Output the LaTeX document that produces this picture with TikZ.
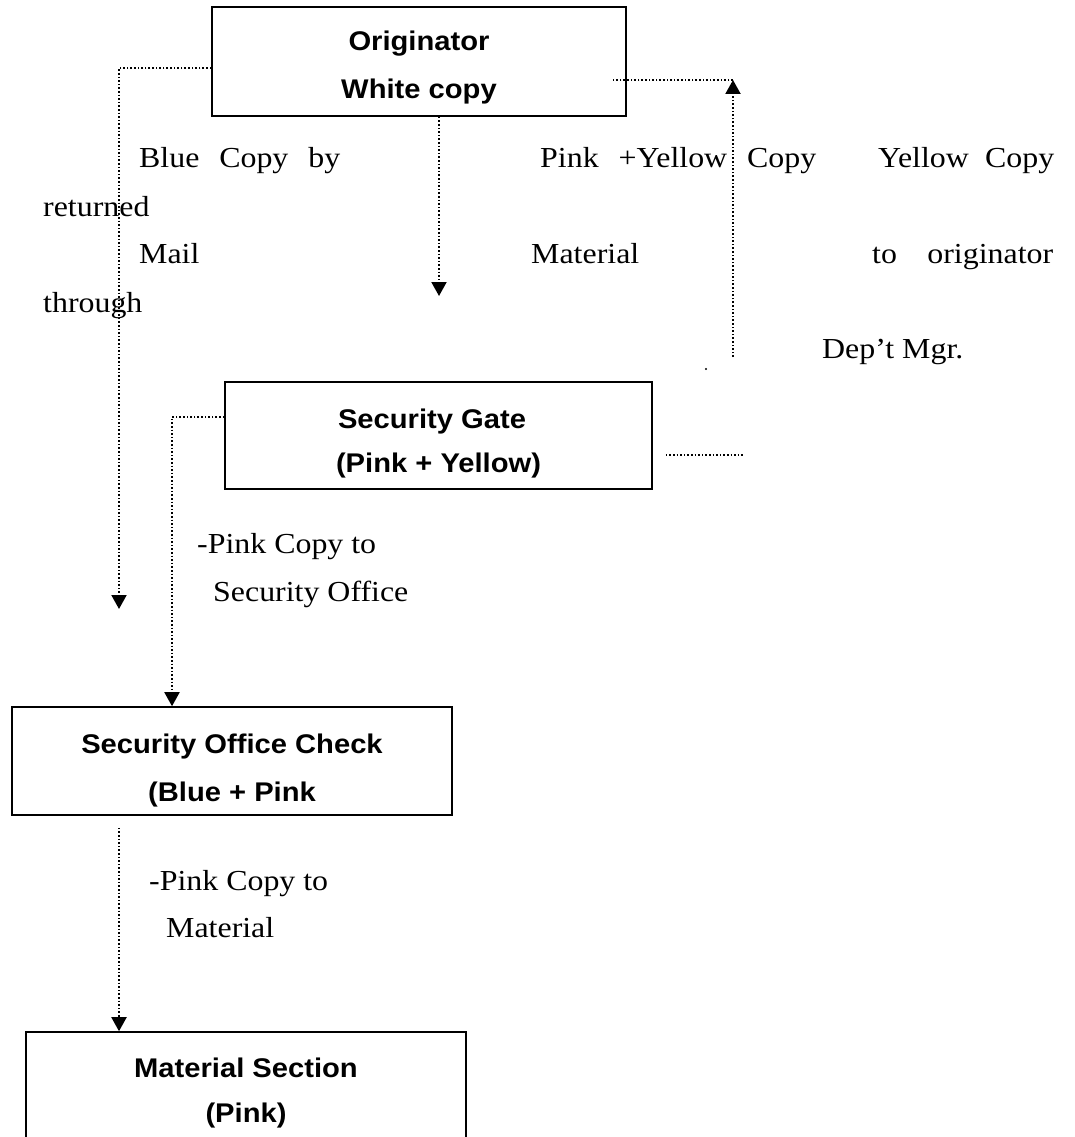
\documentclass[tikz,border=0pt]{standalone}
\usepackage{fontspec}
\newfontfamily\boxfont{Liberation Sans}[FakeStretch=1.08]
\newfontfamily\notefont{Liberation Serif}[FakeStretch=1.1]
\usetikzlibrary{arrows.meta}
\begin{document}
\begin{tikzpicture}[x=1pt,y=-1pt,
  stage/.style={draw=black, line width=1.6pt, inner sep=0pt},
  title/.style={font=\boxfont\bfseries\fontsize{27}{32}\selectfont, anchor=base, inner sep=0pt},
  note/.style={font=\notefont\fontsize{29}{34}\selectfont, anchor=base west, inner sep=0pt},
  flow/.style={line width=2pt, dash pattern=on 1.6pt off 2pt},
  tip/.style={-{Triangle[width=15pt,length=14pt]}}
]
\useasboundingbox (0,0) rectangle (1075,1137);

% process boxes
\node[stage, minimum width=414pt, minimum height=109pt] (orig) at (419,61.5) {};
\node[stage, minimum width=427pt, minimum height=107pt] (gate) at (438.5,435.5) {};
\node[stage, minimum width=440pt, minimum height=108pt] (soc)  at (232,761) {};
\node[stage, minimum width=440pt, minimum height=109pt] (mat)  at (246,1086.5) {};

% box titles
\node[title] (origA) at (419,51)   {Originator};
\node[title] (origB) at (419,99)   {White copy};
\node[title] (gateA) at (432,428)  {Security Gate};
\node[title] (gateB) at (438.5,472) {(Pink + Yellow)};
\node[title] (socA)  at (232,753)  {Security Office Check};
\node[title] (socB)  at (232,801)  {(Blue + Pink};
\node[title] (matA)  at (246,1077) {Material Section};
\node[title] (matB)  at (246,1122) {(Pink)};

% routing notes
\node[note] (blueA) at (139,167) {\makebox[201pt][s]{Blue Copy by}};
\node[note] (blueB) at (43,216)  {returned};
\node[note] (blueC) at (139,263) {Mail};
\node[note] (blueD) at (43,312)  {through};
\node[note] (pyA)   at (540,167) {\makebox[276pt][s]{Pink +Yellow Copy}};
\node[note] (pyB)   at (531,263) {Material};
\node[note] (yelA)  at (878,167) {\makebox[176pt][s]{Yellow Copy}};
\node[note] (yelB)  at (872,263) {\makebox[181pt][s]{to originator}};
\node[note] (yelC)  at (822,358) {Dep’t Mgr.};
\node[note] (gsA)   at (197,553) {-Pink Copy to};
\node[note] (gsB)   at (213,601) {Security Office};
\node[note] (smA)   at (149,890) {-Pink Copy to};
\node[note] (smB)   at (166,937) {Material};

% free ends of the connectors
\coordinate (blueEnd) at (119,609);
\coordinate (matEnd)  at (439,296);
\coordinate (yelTop)  at (733,80);
\coordinate (yelBot)  at (733,357);
\coordinate (origR)   at ([xshift=-14pt]orig.east);
\coordinate (gateR)   at ([xshift=13pt]gate.east);
\coordinate (gateOut) at (744,455);

% connectors
\draw[flow,tip] ([yshift=-6.5pt]orig.west) -| (blueEnd);
\draw[flow,tip] (orig.south -| matEnd) -- (matEnd);
\draw[flow,tip] (yelBot) -- (yelTop);
\draw[flow] (yelTop) -- (origR |- yelTop);
\draw[flow] (gateR |- gateOut) -- (gateOut);
\draw[flow,tip] ([yshift=18.5pt]gate.west) -| ([xshift=-60pt]soc.north);
\draw[flow,tip] ([xshift=-113pt,yshift=-12pt]soc.south) -- ([xshift=-127pt]mat.north);

% stray dot
\node[circle, fill=black, inner sep=0pt, minimum size=2.2pt] (speck) at (706,369) {};
\end{tikzpicture}
\end{document}
